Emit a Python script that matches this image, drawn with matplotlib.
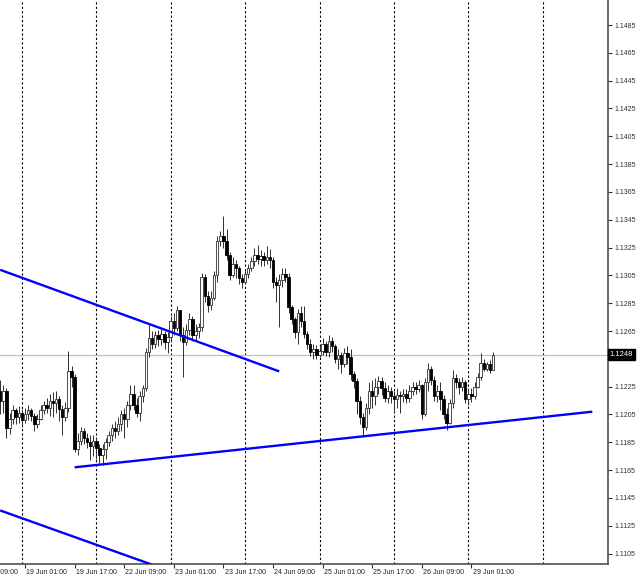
import numpy as np
import matplotlib
matplotlib.use("Agg")
import matplotlib.pyplot as plt
from matplotlib.transforms import blended_transform_factory

plt.rcParams['font.family'] = ['Liberation Sans', 'DejaVu Sans']

# hourly candles, bar index 0 is the leftmost visible bar
first_open = 1.1222
close = [1.1215, 1.1222, 1.1195, 1.1202, 1.1208, 1.1203, 1.1206, 1.1201, 1.1205, 1.1208,
         1.1204, 1.1198, 1.1202, 1.1208, 1.1212, 1.1210, 1.1215, 1.1213, 1.1216, 1.1209,
         1.1203, 1.1210, 1.1236, 1.1232, 1.1180, 1.1186, 1.1193, 1.1188, 1.1185, 1.1182,
         1.1186, 1.1181, 1.1176, 1.1180, 1.1185, 1.1190, 1.1195, 1.1193, 1.1198, 1.1205,
         1.1202, 1.1212, 1.1220, 1.1212, 1.1206, 1.1218, 1.1224, 1.1250, 1.1260, 1.1256,
         1.1262, 1.1259, 1.1263, 1.1257, 1.1261, 1.1272, 1.1267, 1.1280, 1.1262, 1.1257,
         1.1266, 1.1274, 1.1262, 1.1265, 1.1268, 1.1304, 1.1290, 1.1284, 1.1289, 1.1305,
         1.1330, 1.1333, 1.1330, 1.1320, 1.1305, 1.1313, 1.1310, 1.1303, 1.1300, 1.1306,
         1.1310, 1.1315, 1.1320, 1.1317, 1.1319, 1.1316, 1.1318, 1.1316, 1.1300, 1.1298,
         1.1302, 1.1306, 1.1304, 1.1282, 1.1274, 1.1264, 1.1278, 1.1272, 1.1263, 1.1256,
         1.1250, 1.1252, 1.1248, 1.1251, 1.1256, 1.1250, 1.1258, 1.1254, 1.1245, 1.1248,
         1.1241, 1.1249, 1.1246, 1.1234, 1.1229, 1.1215, 1.1203, 1.1196, 1.1210, 1.1222,
         1.1218, 1.1225, 1.1229, 1.1224, 1.1217, 1.1222, 1.1218, 1.1216, 1.1219, 1.1218,
         1.1220, 1.1217, 1.1222, 1.1225, 1.1223, 1.1226, 1.1205, 1.1228, 1.1238, 1.1230,
         1.1218, 1.1222, 1.1216, 1.1205, 1.1199, 1.1213, 1.1231, 1.1228, 1.1225, 1.1228,
         1.1216, 1.1220, 1.1218, 1.1225, 1.1232, 1.1242, 1.1238, 1.1241, 1.1237, 1.1248]
high = [1.1230, 1.1226, 1.1224, 1.1206, 1.1212, 1.1210, 1.1211, 1.1209, 1.1210, 1.1212,
        1.1210, 1.1206, 1.1205, 1.1212, 1.1215, 1.1217, 1.1220, 1.1221, 1.1222, 1.1218,
        1.1212, 1.1214, 1.1251, 1.1240, 1.1234, 1.1192, 1.1196, 1.1195, 1.1192, 1.1190,
        1.1190, 1.1189, 1.1184, 1.1184, 1.1188, 1.1193, 1.1198, 1.1200, 1.1203, 1.1208,
        1.1210, 1.1215, 1.1226, 1.1226, 1.1217, 1.1222, 1.1226, 1.1253, 1.1270, 1.1265,
        1.1265, 1.1266, 1.1267, 1.1265, 1.1264, 1.1276, 1.1278, 1.1283, 1.1280, 1.1268,
        1.1270, 1.1278, 1.1276, 1.1270, 1.1271, 1.1307, 1.1306, 1.1294, 1.1294, 1.1308,
        1.1333, 1.1337, 1.1348, 1.1338, 1.1322, 1.1318, 1.1316, 1.1312, 1.1306, 1.1309,
        1.1313, 1.1318, 1.1325, 1.1327, 1.1323, 1.1322, 1.1326, 1.1324, 1.1318, 1.1304,
        1.1306, 1.1310, 1.1310, 1.1307, 1.1284, 1.1275, 1.1281, 1.1283, 1.1283, 1.1265,
        1.1259, 1.1256, 1.1255, 1.1254, 1.1260, 1.1258, 1.1262, 1.1261, 1.1256, 1.1252,
        1.1250, 1.1253, 1.1254, 1.1252, 1.1236, 1.1231, 1.1218, 1.1206, 1.1213, 1.1228,
        1.1230, 1.1231, 1.1233, 1.1232, 1.1228, 1.1226, 1.1225, 1.1222, 1.1224, 1.1222,
        1.1223, 1.1223, 1.1226, 1.1228, 1.1228, 1.1230, 1.1227, 1.1231, 1.1242, 1.1240,
        1.1233, 1.1226, 1.1228, 1.1219, 1.1210, 1.1216, 1.1237, 1.1234, 1.1231, 1.1232,
        1.1230, 1.1224, 1.1224, 1.1228, 1.1235, 1.1249, 1.1245, 1.1243, 1.1244, 1.1250]
low = [1.1205, 1.1206, 1.1188, 1.1191, 1.1198, 1.1198, 1.1199, 1.1196, 1.1199, 1.1201,
       1.1200, 1.1193, 1.1195, 1.1201, 1.1205, 1.1206, 1.1204, 1.1203, 1.1206, 1.1200,
       1.1190, 1.1200, 1.1207, 1.1225, 1.1178, 1.1176, 1.1183, 1.1184, 1.1181, 1.1172,
       1.1175, 1.1173, 1.1170, 1.1169, 1.1173, 1.1182, 1.1186, 1.1188, 1.1190, 1.1193,
       1.1188, 1.1196, 1.1208, 1.1208, 1.1203, 1.1200, 1.1214, 1.1222, 1.1246, 1.1252,
       1.1253, 1.1254, 1.1255, 1.1252, 1.1249, 1.1258, 1.1262, 1.1265, 1.1258, 1.1232,
       1.1255, 1.1262, 1.1258, 1.1258, 1.1260, 1.1265, 1.1286, 1.1279, 1.1280, 1.1287,
       1.1300, 1.1326, 1.1325, 1.1316, 1.1302, 1.1304, 1.1303, 1.1299, 1.1296, 1.1299,
       1.1303, 1.1308, 1.1312, 1.1313, 1.1312, 1.1312, 1.1313, 1.1310, 1.1296, 1.1286,
       1.1268, 1.1297, 1.1300, 1.1278, 1.1270, 1.1260, 1.1256, 1.1268, 1.1260, 1.1252,
       1.1247, 1.1245, 1.1245, 1.1246, 1.1248, 1.1247, 1.1246, 1.1250, 1.1242, 1.1238,
       1.1235, 1.1239, 1.1241, 1.1230, 1.1224, 1.1205, 1.1198, 1.1189, 1.1194, 1.1205,
       1.1210, 1.1212, 1.1220, 1.1219, 1.1214, 1.1213, 1.1213, 1.1206, 1.1210, 1.1206,
       1.1214, 1.1213, 1.1214, 1.1219, 1.1220, 1.1221, 1.1202, 1.1204, 1.1222, 1.1226,
       1.1215, 1.1214, 1.1208, 1.1202, 1.1194, 1.1198, 1.1210, 1.1224, 1.1220, 1.1222,
       1.1213, 1.1212, 1.1214, 1.1216, 1.1224, 1.1230, 1.1236, 1.1236, 1.1235, 1.1237]

last_price = 1.1248

# trend lines as (bar, price) end points
upper_line = [(0, 1.1309), (90, 1.1236)]
support_line = [(24, 1.1167), (191, 1.1207)]
lower_line = [(0, 1.1136), (49, 1.1097)]

time_ticks = [-8, 8, 24, 40, 56, 72, 88, 104, 120, 136, 152]
time_labels = ['18 Jun 09:00', '19 Jun 01:00', '19 Jun 17:00', '22 Jun 09:00', '23 Jun 01:00',
               '23 Jun 17:00', '24 Jun 09:00', '25 Jun 01:00', '25 Jun 17:00', '26 Jun 09:00',
               '29 Jun 01:00']
day_starts = [7, 31, 55, 79, 103, 127, 151, 175]

close = np.array(close)
high = np.array(high)
low = np.array(low)
opn = np.r_[first_open, close[:-1]]
x = np.arange(len(close))

fig = plt.figure(figsize=(6.4, 5.8), dpi=100)
ax = fig.add_axes([0, 1 - 564 / 580, 608 / 640, 564 / 580])

for d in day_starts:
    ax.axvline(d, color='black', lw=0.8, ls=(0, (2, 2)), zorder=1)
ax.axhline(last_price, color='#c0c0c0', lw=0.9, zorder=1)

ax.vlines(x, low, high, color='#303030', lw=0.7, zorder=2)
up = close >= opn
body_lo = np.minimum(opn, close)
body_h = np.maximum(np.abs(close - opn), 0.00004)
ax.bar(x[up], body_h[up], bottom=body_lo[up], width=0.8, color='white',
       edgecolor='#303030', lw=0.6, zorder=3)
ax.bar(x[~up], body_h[~up], bottom=body_lo[~up], width=0.8, color='black',
       edgecolor='black', lw=0.6, zorder=3)

for line in (upper_line, support_line, lower_line):
    xs, ys = zip(*line)
    ax.plot(xs, ys, color='#0000ff', lw=1.7, zorder=4, solid_capstyle='butt')

ax.set_xlim(-0.065, 196.06)
ax.set_ylim(1.10975, 1.1503)

yt = np.arange(1.1105, 1.1490, 0.002)
ax.yaxis.tick_right()
ax.set_yticks(yt)
ax.set_yticklabels(['%.4f' % v for v in yt])
ax.tick_params(axis='y', direction='out', length=3, width=0.8, labelsize=5,
               pad=2, colors='#303030')

ax.set_xticks(time_ticks[1:])
ax.set_xticklabels([])
ax.tick_params(axis='x', direction='out', length=3, width=0.8, colors='#303030')
tr = blended_transform_factory(ax.transData, ax.transAxes)
for t, lab in zip(time_ticks, time_labels):
    ax.text(t + 0.4, -0.008, lab, transform=tr, ha='left', va='top',
            fontsize=5, color='#202020', clip_on=False)

ax.text(1.003, last_price, '1.1248', transform=blended_transform_factory(ax.transAxes, ax.transData),
        ha='left', va='center', fontsize=5.5, color='white', zorder=10, clip_on=False,
        bbox=dict(boxstyle='square,pad=0.25', fc='black', ec='black'))

for s in ('top', 'left'):
    ax.spines[s].set_visible(False)
for s in ('right', 'bottom'):
    ax.spines[s].set_color('#505050')
    ax.spines[s].set_linewidth(1.2)

fig.savefig('out.png', dpi=100, facecolor='white')
